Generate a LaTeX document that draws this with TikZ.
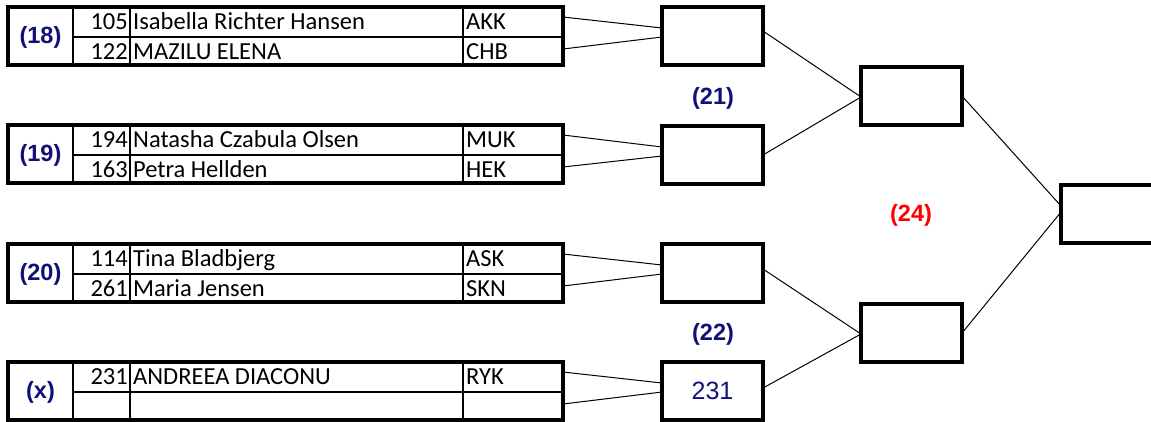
\documentclass[tikz,border=0pt]{standalone}
\usepackage{fontspec}
\setmainfont{Carlito}
\newfontfamily\arialf{Liberation Sans}
\usetikzlibrary{calc}
\definecolor{lblue}{RGB}{16,16,120}
\definecolor{lred}{RGB}{255,0,0}
\tikzset{
  frame/.style={draw, line width=3.6pt, inner sep=0pt, outer sep=0pt},
  grid/.style={line width=1.2pt},
  conn/.style={line width=1pt},
  txt/.style={font=\fontsize{24.5}{26}\selectfont, inner sep=0pt},
  lbl/.style={font=\arialf\bfseries\fontsize{23.5}{25}\selectfont, text=lblue, inner sep=0pt},
  matchbox/.style={frame, minimum width=101pt, minimum height=58pt, anchor=north west},
  cell/.style={inner sep=0pt, outer sep=0pt, minimum width=100pt, minimum height=30pt, anchor=north west},
}
% #1 name, #2 top y, #3 label, #4 n1, #5 name1, #6 club1, #7 n2, #8 name2, #9 club2
\newcommand{\grp}[9]{%
  \node[frame, minimum width=555pt, minimum height=58pt, anchor=north west] (#1) at (8,#2) {};
  \draw[grid] ($(#1.north west)+(65,0)$) -- ($(#1.south west)+(65,0)$);
  \draw[grid] ($(#1.north west)+(122,0)$) -- ($(#1.south west)+(122,0)$);
  \draw[grid] ($(#1.north west)+(455,0)$) -- ($(#1.south west)+(455,0)$);
  \draw[grid] ($(#1.north west)+(65,30)$) -- ($(#1.north east)+(0,30)$);
  \node[lbl] (#1l) at ($(#1.north west)+(32.5,30)$) {#3};
  \node[cell] (#1a) at ($(#1.north west)+(455,0)$) {};
  \node[cell] (#1b) at ($(#1.north west)+(455,30)$) {};
  \node[txt, anchor=base east] (#1n1) at ($(#1.north west)+(120,22)$) {#4};
  \node[txt, anchor=base west] (#1p1) at ($(#1.north west)+(125,22)$) {#5};
  \node[txt, anchor=base west] (#1c1) at ($(#1.north west)+(458,22)$) {#6};
  \node[txt, anchor=base east] (#1n2) at ($(#1.north west)+(120,52)$) {#7};
  \node[txt, anchor=base west] (#1p2) at ($(#1.north west)+(125,52)$) {#8};
  \node[txt, anchor=base west] (#1c2) at ($(#1.north west)+(458,52)$) {#9};
}
\begin{document}
\begin{tikzpicture}[x=1pt,y=-1pt]
\useasboundingbox (0,0) rectangle (1151,421);
\grp{g18}{7}{(18)}{105}{Isabella Richter Hansen}{AKK}{122}{MAZILU ELENA}{CHB}
\grp{g19}{125}{(19)}{194}{Natasha Czabula Olsen}{MUK}{163}{Petra Hellden}{HEK}
\grp{g20}{244}{(20)}{114}{Tina Bladbjerg}{ASK}{261}{Maria Jensen}{SKN}
\grp{gx}{362}{(x)}{231}{ANDREEA DIACONU}{RYK}{}{}{}

\node[matchbox] (m21a) at (662,7) {};
\node[matchbox] (m21b) at (662,126) {};
\node[matchbox] (m22a) at (662,244) {};
\node[matchbox, font=\arialf\fontsize{25}{27}\selectfont, text=lblue] (m22b) at (662,362) {231};
\node[matchbox] (s23a) at (861,67) {};
\node[matchbox] (s23b) at (861,304) {};
\node[inner sep=0pt, outer sep=0pt, minimum width=91pt, minimum height=58pt, anchor=north west] (f24) at (1061,185) {};
\draw[line width=3.6pt] (f24.north east) -- (f24.north west) -- (f24.south west) -- (f24.south east);

\node[lbl] (l21) at (713,98) {(21)};
\node[lbl] (l22) at (713,334) {(22)};
\node[lbl, text=lred] (l24) at (911,215) {(24)};

\foreach \g/\m in {g18/m21a, g19/m21b, g20/m22a, gx/m22b}{
  \draw[conn] ([yshift=5pt]\g a.east) -- ([yshift=8pt]\m.west);
  \draw[conn] ([yshift=3pt]\g b.east) -- ([yshift=-1pt]\m.west);
}
\draw[conn] ([yshift=5pt]m21a.east) -- ([yshift=-1pt]s23a.west);
\draw[conn] (m21b.east) -- ([yshift=-1pt]s23a.west);
\draw[conn] ([yshift=4pt]m22a.east) -- ([yshift=-1pt]s23b.west);
\draw[conn] ([yshift=3pt]m22b.east) -- ([yshift=-1pt]s23b.west);
\draw[conn] (s23a.east) -- ([yshift=8pt]f24.west);
\draw[conn] (s23b.east) -- ([yshift=2pt]f24.west);
\end{tikzpicture}
\end{document}
